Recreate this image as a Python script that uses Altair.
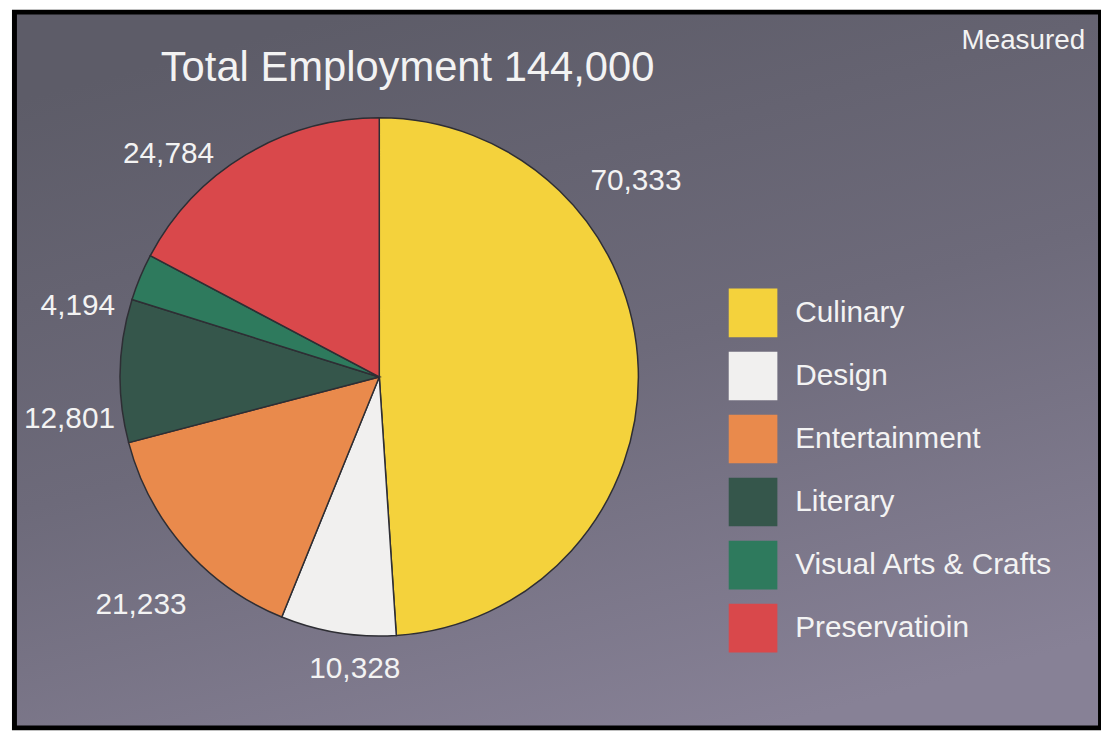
import math
import altair as alt
import pandas as pd

# ---- data ----
CATEGORIES = ["Culinary", "Design", "Entertainment", "Literary",
              "Visual Arts & Crafts", "Preservatioin"]
VALUES = [70333, 10328, 21233, 12801, 4194, 24784]
VALUE_LABELS = ["70,333", "10,328", "21,233", "12,801", "4,194", "24,784"]
COLORS = ["#f4d23c", "#f1f0ef", "#e98a4c", "#35564b", "#2e7a5d", "#d9484b"]
TITLE = "Total Employment 144,000"
CORNER = "Measured"

# ---- layout (label placement around the pie: angle in degrees, radius px) ----
LABEL_ANGLE = [52.7, 184.8, 226.3, 262.2, 283.3, 316.6]
LABEL_RADIUS = [325, 295, 332, 315, 312, 309]

W, H = 1089, 716
CX, CY, R = 365, 365, 261
FONT = "Liberation Sans"
TXT = "#f3f3f3"

df = pd.DataFrame({
    "category": CATEGORIES,
    "value": VALUES,
    "label": VALUE_LABELS,
    "idx": list(range(len(CATEGORIES))),
    "ang": [a * math.pi / 180 for a in LABEL_ANGLE],
    "rad": LABEL_RADIUS,
})

bg = alt.Chart(pd.DataFrame({"a": [0]})).mark_rect(
    color=alt.LinearGradient(
        gradient="linear",
        stops=[alt.GradientStop(color="#5d5c68", offset=0),
               alt.GradientStop(color="#6d6a7a", offset=0.5),
               alt.GradientStop(color="#878196", offset=1)],
        x1=0.3, x2=0.7, y1=0, y2=1,
    )
).encode(x=alt.value(0), x2=alt.value(W), y=alt.value(0), y2=alt.value(H))

pie = alt.Chart(df).mark_arc(radius=R, stroke="#2e2e34", strokeWidth=1.5).encode(
    theta=alt.Theta("value:Q", stack=True),
    order=alt.Order("idx:Q"),
    color=alt.Color(
        "category:N",
        sort=CATEGORIES,
        scale=alt.Scale(domain=CATEGORIES, range=COLORS),
        legend=alt.Legend(
            title=None, orient="none", legendX=717, legendY=276,
            symbolType="square", symbolSize=2401, symbolStrokeWidth=0,
            symbolOpacity=1,
            labelFont=FONT, labelFontSize=30, labelColor=TXT,
            labelOffset=18, rowPadding=14.5, padding=0, labelLimit=400,
        ),
    ),
    x=alt.value(CX),
    y=alt.value(CY),
)

labels = alt.Chart(df).mark_text(
    font=FONT, fontSize=30, color=TXT, align="center", baseline="middle"
).encode(
    theta=alt.Theta("ang:Q", scale=None, stack=False),
    radius=alt.Radius("rad:Q", scale=None),
    text="label:N",
    x=alt.value(CX),
    y=alt.value(CY),
)

title = alt.Chart(pd.DataFrame({"t": [TITLE]})).mark_text(
    font=FONT, fontSize=42, color=TXT, align="center", baseline="alphabetic"
).encode(text="t:N", x=alt.value(393.5), y=alt.value(67))

corner = alt.Chart(pd.DataFrame({"t": [CORNER]})).mark_text(
    font=FONT, fontSize=28, color=TXT, align="right", baseline="alphabetic"
).encode(text="t:N", x=alt.value(1076), y=alt.value(35))

chart = alt.layer(bg, pie, labels, title, corner).resolve_scale(
    theta="independent", radius="independent"
).properties(
    width=W, height=H,
    padding={"left": 9, "top": 4, "right": 3, "bottom": 3},
    autosize=alt.AutoSizeParams(type="none"),
    background="white",
).configure_view(stroke="black", strokeWidth=10)

chart.save("out.html", embed_options={"renderer": "svg", "actions": False})
